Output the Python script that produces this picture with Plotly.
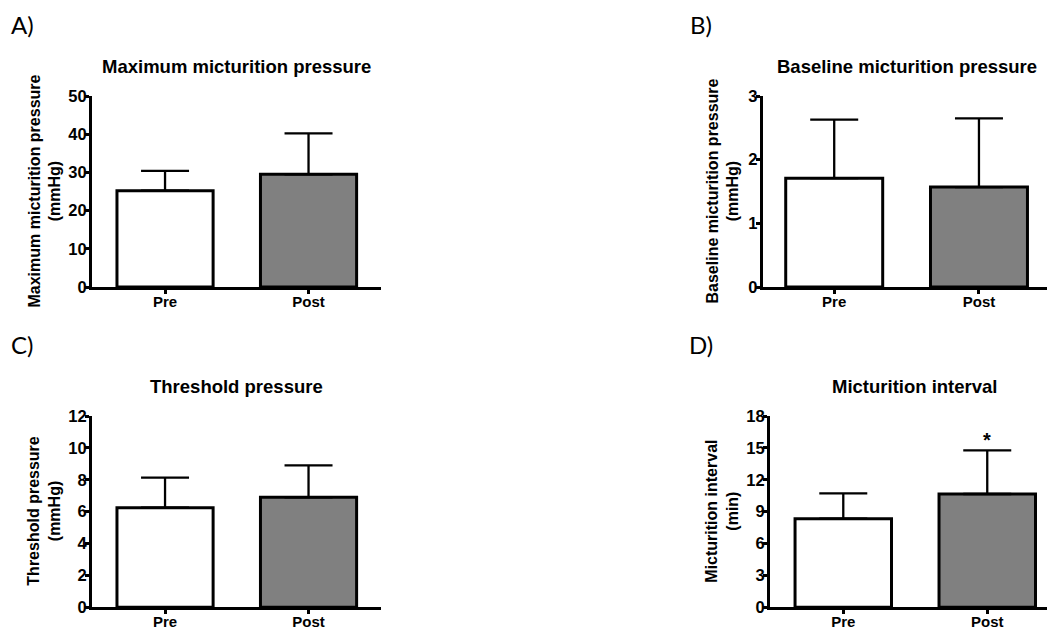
import plotly.graph_objects as go

W, H = 1047, 631

categories = ["Pre", "Post"]

max_pressure_mean = [25.2, 29.5]
max_pressure_sem = [5.2, 10.7]

baseline_pressure_mean = [1.71, 1.57]
baseline_pressure_sem = [0.92, 1.08]

threshold_pressure_mean = [6.25, 6.9]
threshold_pressure_sem = [1.88, 2.0]

interval_mean = [8.34, 10.66]
interval_sem = [2.38, 4.11]

titles = ["Maximum micturition pressure", "Baseline micturition pressure",
          "Threshold pressure", "Micturition interval"]
ytitles = ["Maximum micturition pressure<br>(mmHg)",
           "Baseline micturition pressure<br>(mmHg)",
           "Threshold pressure<br>(mmHg)",
           "Micturition interval<br>(min)"]
panel_labels = ["A)", "B)", "C)", "D)"]
ymax = [50, 3, 12, 18]
ydtick = [10, 1, 2, 3]

means = [max_pressure_mean, baseline_pressure_mean, threshold_pressure_mean, interval_mean]
sems = [max_pressure_sem, baseline_pressure_sem, threshold_pressure_sem, interval_sem]

# layout geometry in pixels: (x0, x1, y_top, y_bottom, xrange)
geom = [
    (92, 381, 96, 287, [-0.509, 1.505]),
    (762.7, 1047, 96, 287, [-0.494, 1.47]),
    (92, 381, 416, 607.3, [-0.509, 1.505]),
    (770, 1047, 416, 607.3, [-0.509, 1.415]),
]
title_pos = [(236.5, 66), (907, 66), (236.5, 386), (914.5, 386)]
ytitle_x = [44, 722, 44, 722]
label_pos = [(22, 25), (701, 25), (22, 344), (701, 344)]

FONT = "Liberation Sans, Arial, sans-serif"

def px(x):
    return x / W

def py(y):
    return 1 - y / H

fig = go.Figure()
layout = dict(
    width=W, height=H, autosize=False,
    margin=dict(l=0, r=0, t=0, b=0, pad=0, autoexpand=False),
    paper_bgcolor="white", plot_bgcolor="white",
    showlegend=False,
    font=dict(family=FONT, color="black"),
    annotations=[],
)

for i in range(4):
    n = i + 1
    xa = "x" if n == 1 else f"x{n}"
    ya = "y" if n == 1 else f"y{n}"
    x0, x1, yt, yb, xr = geom[i]
    fig.add_trace(go.Bar(
        x=categories, y=means[i], xaxis=xa, yaxis=ya,
        width=0.67,
        marker=dict(color=["white", "#808080"], line=dict(color="black", width=3)),
        error_y=dict(type="data", symmetric=False, array=sems[i], arrayminus=[0, 0],
                     color="black", thickness=2.3, width=24),
        cliponaxis=False,
    ))
    xkey = "xaxis" if n == 1 else f"xaxis{n}"
    ykey = "yaxis" if n == 1 else f"yaxis{n}"
    layout[xkey] = dict(
        domain=[px(x0), min(px(x1), 1.0)], anchor=ya, range=xr,
        showline=True, linewidth=3, linecolor="black",
        ticks="outside", ticklen=4, tickwidth=2.5, tickcolor="black",
        ticklabelstandoff=-5,
        showgrid=False, zeroline=False, automargin=False,
        tickfont=dict(family=FONT, size=15, weight="bold", color="black"),
        fixedrange=True,
    )
    layout[ykey] = dict(
        domain=[py(yb), py(yt)], anchor=xa, range=[0, ymax[i]], dtick=ydtick[i],
        showline=True, linewidth=3, linecolor="black",
        ticks="outside", ticklen=4, tickwidth=2.5, tickcolor="black",
        ticklabelstandoff=-5,
        showgrid=False, zeroline=False, automargin=False,
        tickfont=dict(family=FONT, size=16.5, weight="bold", color="black"),
        fixedrange=True,
    )
    tx, ty = title_pos[i]
    layout["annotations"].append(dict(
        text=titles[i], x=px(tx), y=py(ty), xref="paper", yref="paper",
        xanchor="center", yanchor="middle", showarrow=False,
        font=dict(family=FONT, size=18.5, weight="bold", color="black"),
    ))
    layout["annotations"].append(dict(
        text=ytitles[i], x=px(ytitle_x[i]), y=py((yt + yb) / 2), xref="paper", yref="paper",
        xanchor="center", yanchor="middle", showarrow=False, textangle=-90,
        font=dict(family=FONT, size=16, weight="bold", color="black"),
    ))
    lx, ly = label_pos[i]
    layout["annotations"].append(dict(
        text=panel_labels[i], x=px(lx), y=py(ly), xref="paper", yref="paper",
        xanchor="center", yanchor="middle", showarrow=False,
        font=dict(family="Lato, Open Sans, sans-serif", size=24, color="black"),
    ))

# significance asterisk above Post in panel D
layout["annotations"].append(dict(
    text="*", x="Post", y=interval_mean[1] + interval_sem[1], xref="x4", yref="y4",
    xanchor="center", yanchor="bottom", yshift=-3, showarrow=False,
    font=dict(family=FONT, size=20, weight="bold", color="black"),
))

fig.update_layout(**layout)
fig.write_html(
    "out.html",
    config={"displayModeBar": False},
    post_script="document.body.style.margin='0';document.body.style.overflow='hidden';",
)
